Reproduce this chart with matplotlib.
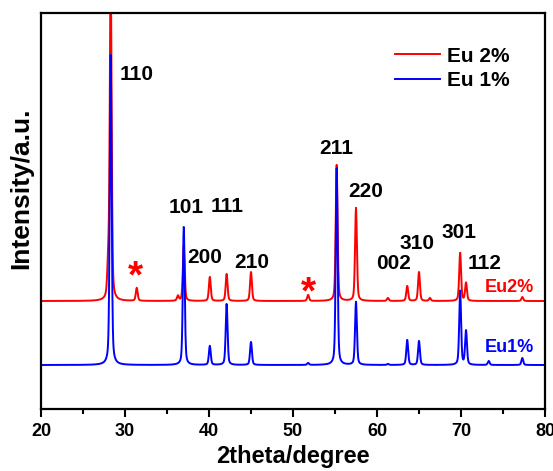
import numpy as np
import matplotlib
matplotlib.use("Agg")
import matplotlib.pyplot as plt
from matplotlib.ticker import MultipleLocator

plt.rcParams['font.family'] = ['Liberation Sans', 'DejaVu Sans']
plt.rcParams['font.weight'] = 'bold'

# peak positions (2theta) and heights (arbitrary units)
red_pos = [28.0, 28.3, 31.4, 36.3, 37.0, 40.1, 42.1, 45.0, 51.8, 55.2, 57.5, 61.3, 63.6, 65.0, 66.3, 69.9, 70.6, 77.3]
red_height = [30, 330, 13, 5, 55, 24, 27, 29, 6, 136, 93, 3, 15, 29, 3, 48, 18, 4]
blue_pos = [28.3, 37.0, 40.1, 42.1, 45.0, 51.8, 55.2, 57.5, 61.3, 63.6, 65.0, 69.9, 70.6, 73.3, 77.3]
blue_height = [310, 138, 19, 61, 23, 2, 197, 63, 1, 25, 24, 74, 34, 4, 7]
red_offset = 108
blue_offset = 44

hkl = ['110', '101', '111', '200', '210', '211', '220', '002', '310', '301', '112']
hkl_x = [31.4, 37.3, 42.2, 39.5, 45.1, 55.1, 58.6, 62.0, 64.8, 69.8, 72.8]
hkl_y = [335, 202, 203, 152, 147, 261, 218, 146, 166, 177, 146]
star_x = [31.2, 51.8]
star_y = [132, 116]

two_theta = np.arange(20, 80.001, 0.02)


def pattern(pos, height, fwhm=0.26):
    y = np.zeros_like(two_theta)
    for p, h in zip(pos, height):
        g = np.exp(-4 * np.log(2) * ((two_theta - p) / fwhm) ** 2)
        l = 1 / (1 + 4 * ((two_theta - p) / fwhm) ** 2)
        y += h * (0.6 * g + 0.4 * l)
    return y


red = pattern(red_pos, red_height) + red_offset
blue = pattern(blue_pos, blue_height) + blue_offset

fig = plt.figure(figsize=(5.53, 4.71), dpi=100)
ax = fig.add_axes([0.0741, 0.1316, 0.9114, 0.8408])

ax.plot(two_theta, red, color='red', lw=1.4, label='Eu 2%')
ax.plot(two_theta, blue, color='blue', lw=1.4, label='Eu 1%')

for t, x, y in zip(hkl, hkl_x, hkl_y):
    ax.text(x, y, t, ha='center', va='center', fontsize=15, fontweight='bold', color='black')
for x, y in zip(star_x, star_y):
    ax.text(x, y, '*', ha='center', va='center', fontsize=28, fontweight='bold', color='red')

ax.text(75.8, 122, 'Eu2%', ha='center', va='center', fontsize=13, fontweight='bold', color='red')
ax.text(75.8, 62, 'Eu1%', ha='center', va='center', fontsize=13, fontweight='bold', color='blue')

ax.set_xlim(20, 80)
ax.set_ylim(0, 396)
ax.set_yticks([])
ax.xaxis.set_major_locator(MultipleLocator(10))
ax.xaxis.set_minor_locator(MultipleLocator(5))
ax.tick_params(axis='x', which='major', length=6, width=1.5, labelsize=13, pad=4)
ax.tick_params(axis='x', which='minor', length=3.5, width=1.5)
for lab in ax.get_xticklabels():
    lab.set_fontweight('bold')
for s in ax.spines.values():
    s.set_linewidth(1.6)

ax.set_xlabel('2theta/degree', fontsize=17, fontweight='bold', labelpad=4)
ax.set_ylabel('Intensity/a.u.', fontsize=19, fontweight='bold')
ax.yaxis.set_label_coords(-0.016, 0.558)

leg = ax.legend(loc='upper right', bbox_to_anchor=(0.93, 0.915), frameon=False,
                fontsize=15, handlelength=2.15, handletextpad=0.35, labelspacing=0.25,
                borderaxespad=0, borderpad=0)
for t in leg.get_texts():
    t.set_fontweight('bold')

fig.savefig('out.png', dpi=100)
